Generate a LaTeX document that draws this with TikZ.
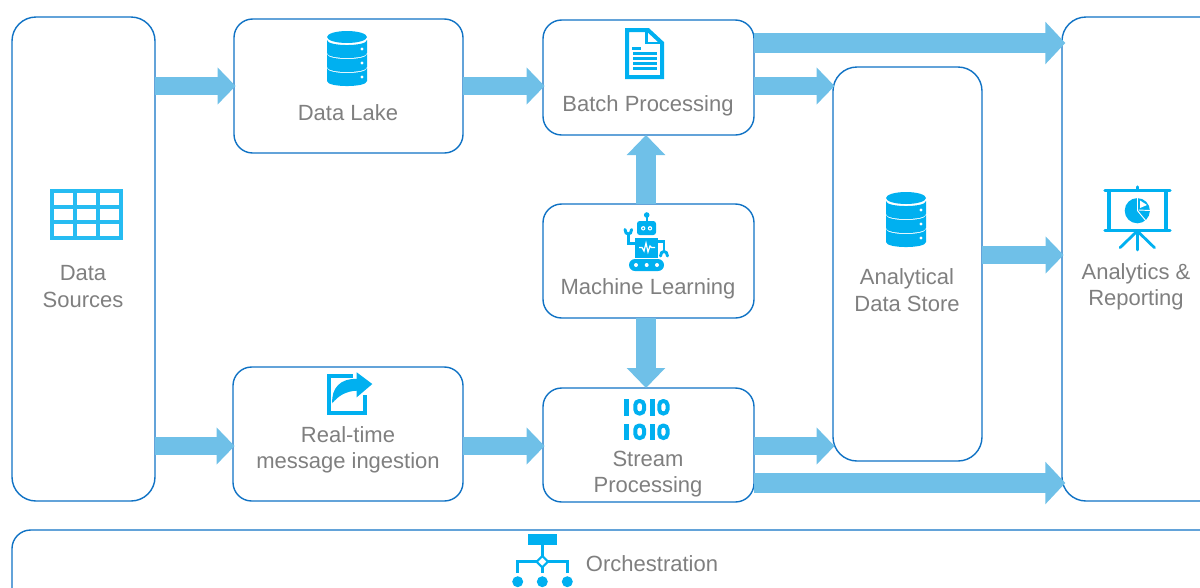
\documentclass[tikz,border=0pt]{standalone}
\usepackage{fontspec}
\setmainfont{Liberation Sans}
\usetikzlibrary{arrows.meta,fit}
\definecolor{boxline}{HTML}{0F72C4}
\definecolor{flowc}{HTML}{6FC0E8}
\definecolor{icon}{HTML}{00B0F0}
\definecolor{label}{HTML}{7F7F7F}
\tikzset{
 box/.style={draw=boxline,line width=1.05pt,rounded corners=14pt,inner sep=0pt,outer sep=0pt},
 bigbox/.style={box,rounded corners=18pt},
 txt/.style={text=label,font=\fontsize{16.5}{19.7}\selectfont,align=center,inner sep=0pt},
 flow/.style={draw=flowc,line width=13.5pt,shorten >=-1.2pt,-{Triangle[length=13.5pt,width=27pt,fill=flowc]}},
 longflow/.style={draw=flowc,line width=15pt,shorten >=-2.5pt,-{Triangle[length=15pt,width=31pt,fill=flowc]}},
 vflow/.style={draw=flowc,line width=14.5pt,-{Triangle[length=15pt,width=28pt,fill=flowc]}},
 ic/.style={draw=icon,line width=3pt},
 icf/.style={fill=icon},
 pics/dbicon/.style={code={
  \fill[icon] (0,-22) ellipse [x radius=20,y radius=6];
  \foreach \o in {0,14,28}{
   \fill[icon] (-20,-19+\o) .. controls (-20,-12.3+\o) and (20,-12.3+\o) .. (20,-19+\o) -- (20,-6+\o) .. controls (20,0.7+\o) and (-20,0.7+\o) .. (-20,-6+\o) -- cycle;
   \fill[white] (15,-10+\o) circle [radius=1.7];
  }
 }}
}
\begin{document}
\begin{tikzpicture}[x=0.75pt,y=-0.75pt]
\useasboundingbox (0,0) rectangle (1200,587);
\clip (0,0) rectangle (1200,587);
% boxes
\node[bigbox,fit={(12,17) (155,501)}] (sources) {};
\node[box,fit={(234,19) (463,153)}] (lake) {};
\node[box,fit={(543,20) (754,135)}] (batch) {};
\node[box,fit={(543,204) (754,318)}] (ml) {};
\node[box,fit={(543,388) (754,502)}] (stream) {};
\node[box,fit={(233,367) (463,501)}] (ingest) {};
\node[bigbox,fit={(833,67) (982,461)}] (store) {};
\node[bigbox,fit={(1062,17) (1240,501)}] (report) {};
\node[box,fit={(12,530) (1240,640)}] (orch) {};
% labels
\node[txt] (t1) at (83,286.5) {Data\\Sources};
\node[txt] (t2) at (348,113) {Data Lake};
\node[txt] (t3) at (648,106) {Batch Processing};
\node[txt] (t4) at (648,289) {Machine Learning};
\node[txt] (t5) at (348,450) {Real-time\\message ingestion};
\node[txt] (t6) at (648,474) {Stream\\Processing};
\node[txt] (t7) at (907,290) {Analytical\\Data Store};
\node[txt] (t8) at (1136,287) {Analytics \&\\Reporting};
\node[txt] (t9) at (652,564) {Orchestration};
% connectors
\coordinate (ya) at (0,43);
\coordinate (yb) at (0,86);
\coordinate (yc) at (0,255);
\coordinate (yd) at (0,446);
\coordinate (ye) at (0,483);
\coordinate (xm) at (646,0);
\draw[flow] (sources.east |- yb) -- (lake.west |- yb);
\draw[flow] (lake.east |- yb) -- (batch.west |- yb);
\draw[flow] (batch.east |- yb) -- (store.west |- yb);
\draw[longflow] (batch.east |- ya) -- (report.west |- ya);
\draw[flow] (store.east |- yc) -- (report.west |- yc);
\draw[flow] (sources.east |- yd) -- (ingest.west |- yd);
\draw[flow] (ingest.east |- yd) -- (stream.west |- yd);
\draw[flow] (stream.east |- yd) -- (store.west |- yd);
\draw[longflow] (stream.east |- ye) -- (report.west |- ye);
\draw[vflow] (xm |- ml.north) -- (xm |- batch.south);
\draw[vflow] (xm |- ml.south) -- (xm |- stream.north);
% grid icon
\draw[ic,draw=icon!85] (52,191) rectangle (121,237.5);
\foreach \gx in {75,98}{\draw[ic,draw=icon!85] (\gx,190) -- (\gx,238);}
\foreach \gy in {206.5,222}{\draw[ic,draw=icon!85] (51,\gy) -- (122,\gy);}
% databases
\pic at (347,59) {dbicon};
\begin{scope}[shift={(906,220)},scale=1.13]
\pic at (0,0) {dbicon};
\end{scope}
% document icon
\draw[ic,miter limit=4] (627,30) -- (648,30) -- (662,43) -- (662,77) -- (627,77) -- cycle;
\draw[ic,line width=1.8pt] (646.5,29.5) -- (646.5,43) -- (662.5,43);
\fill[icon] (632,47) rectangle (641,50);
\foreach \ly in {52,57,62,67}{\fill[icon] (632.5,\ly) rectangle (657,\ly+3);}
% robot
\fill[icon] (646.7,215) circle [radius=2.8];
\fill[icon] (645.7,215) rectangle (647.7,222);
\fill[icon,rounded corners=2pt] (637,221) rectangle (656,235);
\foreach \ex in {643.2,650}{\fill[white] (\ex,228.3) circle [radius=2.2]; \fill[icon] (\ex,228.3) circle [radius=1];}
\fill[icon] (635,238) rectangle (658,258);
\draw[white,line width=0.9pt] (639,247.5) -- (642,247.5) -- (644,251) -- (646,243) -- (648,252) -- (650,246) -- (651.5,247.5) -- (655,247.5);
\fill[icon,rounded corners=4.5pt] (629,259) rectangle (664,271);
\foreach \dx in {636,646.7,657}{\fill[white] (\dx,265) circle [radius=2];}
\draw[ic,line width=2.2pt] (635,243.3) -- (628.3,243.3) -- (628.3,234);
\draw[ic,line width=2.2pt,line cap=round] (625,229.5) .. controls (625,235.5) and (631.6,235.5) .. (631.6,229.5);
\draw[ic,line width=2.2pt] (658,241.7) -- (664,241.7) -- (664,252);
\draw[ic,line width=2.2pt,line cap=round] (660.5,256) .. controls (660.5,250) and (667.5,250) .. (667.5,256);
% presentation icon
\draw[ic,line cap=round,line width=2.6pt] (1105,190.7) -- (1170,190.7);
\draw[ic,line cap=round,line width=2.6pt] (1105,230.7) -- (1170,230.7);
\draw[ic,line cap=round,line width=2.6pt] (1137.3,187) -- (1137.3,190);
\draw[ic,line width=3pt] (1108.5,190.7) -- (1108.5,230.7);
\draw[ic,line width=3pt] (1166,190.7) -- (1166,230.7);
\draw[ic,line cap=round,line width=2.1pt] (1137.3,231) -- (1120,247.7);
\draw[ic,line cap=round,line width=2.1pt] (1137.3,231) -- (1137.3,250);
\draw[ic,line cap=round,line width=2.1pt] (1137.3,231) -- (1154.5,247.7);
\fill[icon] (1137.3,210.7) circle [radius=12.6];
\draw[white,line width=0.7pt] (1137.5,198) -- (1137.5,210.7) -- (1146,221);
\draw[white,line width=0.7pt] (1138.5,210) -- (1150,210.5);
\fill[white] (1140,200.5) -- (1147,205) -- (1140,208) -- cycle;
% share icon
\draw[ic] (353,376) -- (328.5,376) -- (328.5,412.5) -- (365,412.5) -- (365,395);
\fill[icon] (372.3,384) -- (356.7,372.3) -- (356.7,379) .. controls (341,378) and (331,388) .. (332.3,403.3) .. controls (338,396) and (346,391) .. (356.7,390.7) -- (356.7,397.3) -- cycle;
% binary icon
\foreach \by in {399,423.5}{
 \fill[icon] (624,\by) rectangle (629.3,\by+16.5);
 \fill[icon] (649.5,\by) rectangle (654.5,\by+16.5);
 \draw[ic,rounded corners=3pt] (635.3,\by+2) rectangle (644,\by+14.5);
 \draw[ic,rounded corners=3pt] (659.3,\by+2) rectangle (667.5,\by+14.5);
}
% orchestration icon
\fill[icon] (528.3,534) rectangle (556.7,545);
\draw[ic,line width=2.2pt] (542.3,545) -- (542.3,556);
\draw[ic,line width=2.2pt] (517.7,573) -- (517.7,561.7) -- (537,561.7);
\draw[ic,line width=2.2pt] (567.3,573) -- (567.3,561.7) -- (547.6,561.7);
\draw[ic,line width=2.2pt] (542.3,567) -- (542.3,573);
\draw[ic,line width=1.6pt] (542.3,556) -- (548,561.7) -- (542.3,567.4) -- (536.6,561.7) -- cycle;
\foreach \cx in {517.7,542.3,567.3}{\fill[icon] (\cx,581.7) circle [radius=5.5];}
\end{tikzpicture}
\end{document}
